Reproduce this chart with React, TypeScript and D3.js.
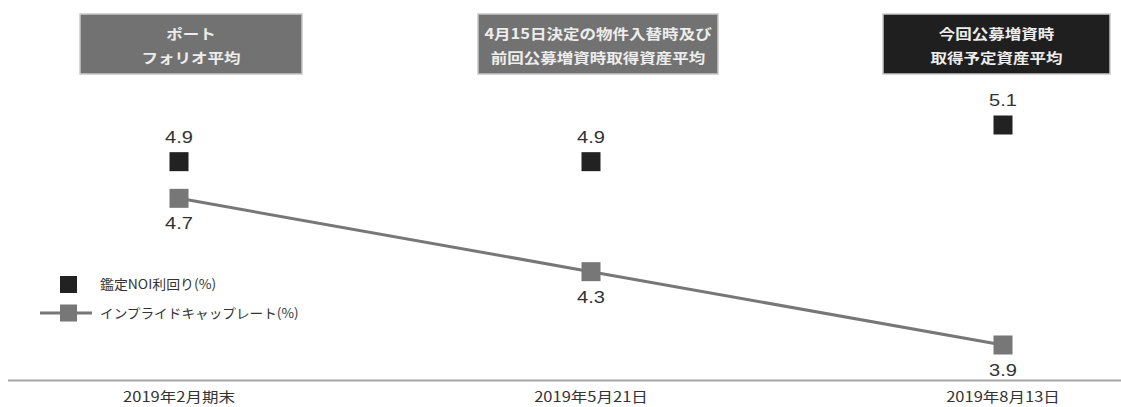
import React from "react";
import * as d3 from "d3";

const categories = ["2019年2月期末", "2019年5月21日", "2019年8月13日"];
const headerLines = [
  ["ポート", "フォリオ平均"],
  ["4月15日決定の物件入替時及び", "前回公募増資時取得資産平均"],
  ["今回公募増資時", "取得予定資産平均"],
];
const noiYield = [4.9, 4.9, 5.1];
const impliedCap = [4.7, 4.3, 3.9];
const legendLabels = ["鑑定NOI利回り(%)", "インプライドキャップレート(%)"];

const W = 1121;
const H = 407;
const SX = 1.18;
const CJK = "'Noto Sans CJK JP', 'Noto Sans', sans-serif";
const NUM = "'Liberation Sans', Arial, sans-serif";

const boxes = [
  { x0: 80, x1: 302, fill: "#727272" },
  { x0: 478, x1: 718, fill: "#727272" },
  { x0: 883, x1: 1110, fill: "#1f1f1f" },
];

function SText({ x, y, children, size, fill, weight, family, anchor = "middle", sx = SX }: any) {
  return (
    <text
      transform={`translate(${x},${y}) scale(${sx},1)`}
      textAnchor={anchor}
      fontSize={size}
      fill={fill}
      fontWeight={weight || "normal"}
      fontFamily={family}
    >
      {children}
    </text>
  );
}

export default function App() {
  const x = d3.scalePoint<string>().domain(categories).range([179, 1003]);
  const y = d3.scaleLinear().domain([3.9, 5.1]).range([345, 125]);
  const sq = 19;

  const line = d3
    .line<number>()
    .x((_, i) => x(categories[i]) as number)
    .y((d) => y(d));

  return (
    <svg
      width={W}
      height={H}
      style={{ position: "absolute", left: 0, top: 0, background: "#fff" }}
    >
      {boxes.map((b, i) => (
        <g key={i}>
          <rect x={b.x0} y={14} width={b.x1 - b.x0} height={60} fill={b.fill} stroke="#c8c8c8" strokeWidth={1.5} />
          {headerLines[i].map((t, j) => (
            <SText key={j} x={(b.x0 + b.x1) / 2} y={39 + j * 24} size={14} fill="#ededed" weight="bold" family={CJK}>
              {t}
            </SText>
          ))}
        </g>
      ))}

      <path d={line(impliedCap) || ""} fill="none" stroke="#777" strokeWidth={3} />

      {impliedCap.map((v, i) => {
        const cx = x(categories[i]) as number;
        const cy = y(v);
        return (
          <g key={"g" + i}>
            <rect x={cx - sq / 2} y={cy - sq / 2} width={sq} height={sq} fill="#777" />
            <SText x={cx} y={cy + 31} size={17} fill="#333" family={NUM}>
              {v.toFixed(1)}
            </SText>
          </g>
        );
      })}

      {noiYield.map((v, i) => {
        const cx = x(categories[i]) as number;
        const cy = y(v);
        return (
          <g key={"b" + i}>
            <rect x={cx - sq / 2} y={cy - sq / 2} width={sq} height={sq} fill="#222" />
            <SText x={cx} y={cy - 19} size={17} fill="#333" family={NUM}>
              {v.toFixed(1)}
            </SText>
          </g>
        );
      })}

      {/* legend */}
      <rect x={60} y={276} width={17} height={17} fill="#222" />
      <SText x={100} y={289} size={13} fill="#333" family={CJK} anchor="start" sx={1.07}>
        {legendLabels[0]}
      </SText>
      <line x1={40} x2={92} y1={313} y2={313} stroke="#777" strokeWidth={3} />
      <rect x={60} y={304.5} width={17} height={17} fill="#777" />
      <SText x={100} y={318} size={13} fill="#333" family={CJK} anchor="start" sx={1.05}>
        {legendLabels[1]}
      </SText>

      {/* axis */}
      <line x1={8} x2={W} y1={380.5} y2={380.5} stroke="#a8a8a8" strokeWidth={2} />
      {categories.map((c) => (
        <SText key={c} x={x(c) as number} y={402} size={14} fill="#333" family={CJK}>
          {c}
        </SText>
      ))}
    </svg>
  );
}
